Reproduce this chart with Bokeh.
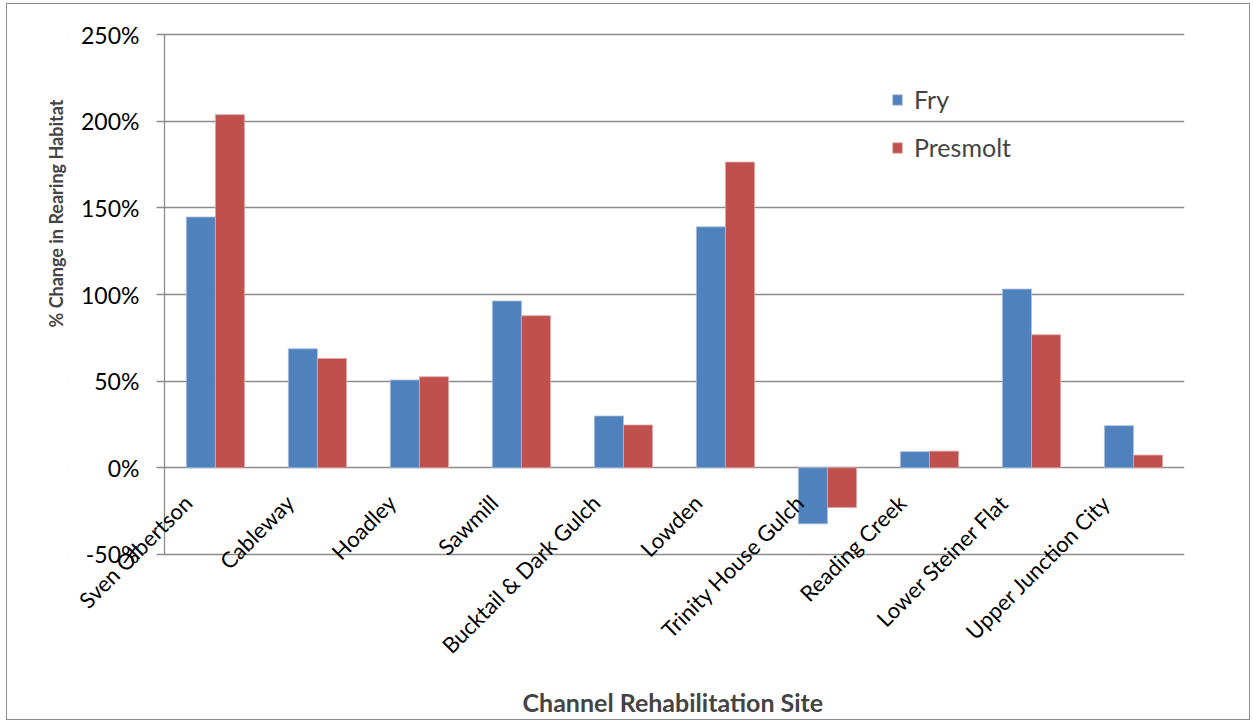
from math import pi
from bokeh.plotting import figure
from bokeh.core.properties import value
from bokeh.models import (Range1d, FixedTicker, NumeralTickFormatter, BoxAnnotation,
                          ColumnDataSource, Title, LabelSet)
from bokeh.transform import dodge
from bokeh.embed import file_html
from bokeh.resources import INLINE

sites = ["Sven Olbertson", "Cableway", "Hoadley", "Sawmill", "Bucktail & Dark Gulch",
         "Lowden", "Trinity House Gulch", "Reading Creek", "Lower Steiner Flat",
         "Upper Junction City"]
fry = [1.448, 0.687, 0.507, 0.963, 0.299, 1.391, -0.324, 0.093, 1.032, 0.243]
presmolt = [2.039, 0.631, 0.525, 0.878, 0.247, 1.765, -0.230, 0.096, 0.768, 0.073]
y_ticks = [-0.5, 0.0, 0.5, 1.0, 1.5, 2.0, 2.5]
series_names = ["Fry", "Presmolt"]

BLUE = "#4F81BD"
RED = "#C0504D"
GRID = "#8c8c8c"
FONT = "Lato"

# category slots: one unit per site, centred at i + 0.5
slot = [i + 0.5 for i in range(len(sites))]
src = ColumnDataSource(dict(site=sites, slot=slot, fry=fry, presmolt=presmolt))

# the frame reaches left of the value axis, above 250% and below -50% so that
# tick labels and the rotated category labels (hung under the zero line) are
# not clipped
p = figure(x_range=Range1d(-0.95, len(sites)),
           y_range=Range1d(-1.24, 2.6),
           width=1244, height=717,
           output_backend="svg", toolbar_location=None,
           min_border_left=60, min_border_top=13, min_border_right=67,
           min_border_bottom=39)
p.margin = (3, 0, 0, 6)
p.styles = {"border": "1px solid #8c8c8c"}
p.outline_line_color = None
p.background_fill_color = "white"

p.ygrid.ticker = FixedTicker(ticks=y_ticks)
p.ygrid.grid_line_color = GRID
p.ygrid.grid_line_width = 1.3
p.xgrid.visible = False
# hide grid lines left of the value axis
p.add_layout(BoxAnnotation(right=0, fill_color="white", fill_alpha=1.0,
                           line_color=None, level="underlay"))

p.vbar(x=dodge("slot", -0.1425), top="fry", width=0.285, source=src,
       fill_color=BLUE, line_color="#a7bfde", line_width=0.8, legend_label=series_names[0])
p.vbar(x=dodge("slot", 0.1425), top="presmolt", width=0.285, source=src,
       fill_color=RED, line_color="#e0a6a4", line_width=0.8, legend_label=series_names[1])

# value axis at the left edge of the category area
yax = p.yaxis[0]
yax.fixed_location = 0
yax.bounds = (y_ticks[0], y_ticks[-1])
yax.ticker = FixedTicker(ticks=y_ticks)
yax.formatter = NumeralTickFormatter(format="0%")
yax.axis_line_color = GRID
yax.axis_line_width = 1.3
yax.major_tick_line_color = GRID
yax.major_tick_line_width = 1.3
yax.major_tick_out = 8
yax.major_tick_in = 0
yax.minor_tick_line_color = None
yax.major_label_text_font = FONT
yax.major_label_text_font_size = "23px"
yax.major_label_text_color = "black"
yax.major_label_standoff = 17

# category axis crosses at 0: its labels hang below the zero line
p.xaxis.visible = False
cat_labels = LabelSet(x=dodge("slot", -0.27), y=0, text="site",
                      source=src, angle=pi / 4, text_align="right",
                      text_baseline="middle", y_offset=-31,
                      text_font=value(FONT), text_font_size=value("22px"),
                      text_color="black")
p.add_layout(cat_labels)

p.add_layout(Title(text="% Change in Rearing Habitat", align="left", offset=355,
                   text_font=FONT, text_font_size="18px", text_font_style="bold",
                   standoff=1), "left")
p.add_layout(Title(text="Channel Rehabilitation Site", align="left", offset=455,
                   standoff=4, text_font=FONT, text_font_size="25px",
                   text_font_style="bold"), "below")

leg = p.legend[0]
leg.location = (824, 520)
leg.border_line_color = None
leg.background_fill_alpha = 0
leg.label_text_font = FONT
leg.label_text_font_size = "25px"
leg.glyph_width = 12
leg.glyph_height = 13
leg.label_height = 20
leg.spacing = 18
leg.padding = 0
leg.margin = 0
leg.label_standoff = 11

open("out.html", "w").write(file_html(p, INLINE))
